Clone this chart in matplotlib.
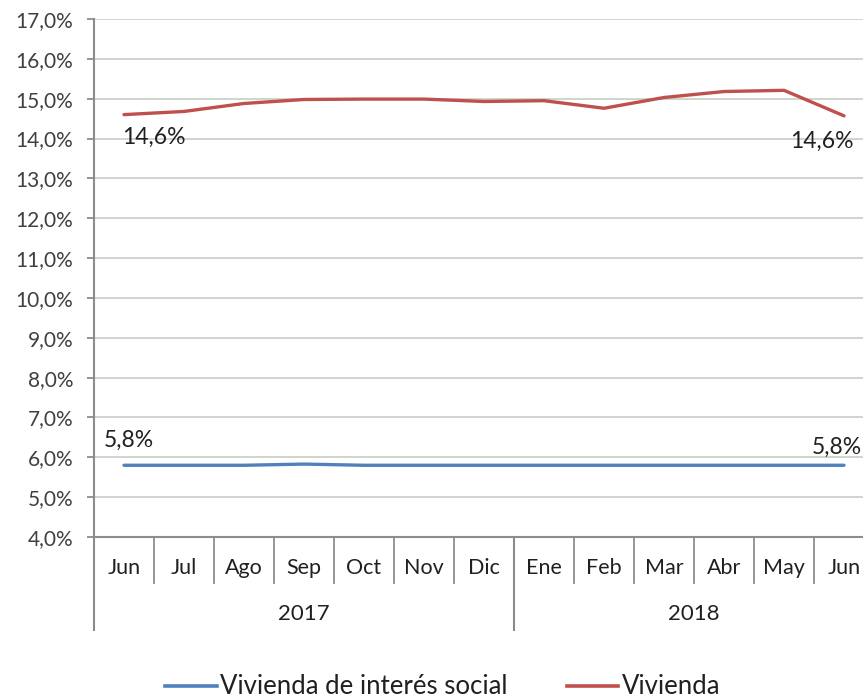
import matplotlib
matplotlib.use("Agg")
import matplotlib.pyplot as plt
from matplotlib.lines import Line2D
from matplotlib.transforms import blended_transform_factory

plt.rcParams['font.family'] = ['Lato', 'DejaVu Sans']

months = ["Jun", "Jul", "Ago", "Sep", "Oct", "Nov", "Dic",
          "Ene", "Feb", "Mar", "Abr", "May", "Jun"]
years = ["2017", "2018"]
year_spans = [(0, 6), (7, 12)]
vis = [5.8, 5.8, 5.8, 5.83, 5.8, 5.8, 5.8, 5.8, 5.8, 5.8, 5.8, 5.8, 5.8]
viv = [14.6, 14.68, 14.88, 14.98, 14.99, 14.99, 14.93, 14.95, 14.76, 15.03, 15.18, 15.21, 14.57]
yticks = list(range(4, 18))

W, H = 863, 698
fig = plt.figure(figsize=(W / 100, H / 100), dpi=100)
ax = fig.add_axes([94 / W, (H - 537) / H, 780 / W, 518 / H])

x = list(range(len(months)))
blue = "#4F81BD"
red = "#C0504D"
ax.plot(x, vis, color=blue, lw=2.4, solid_capstyle="round", zorder=3)
ax.plot(x, viv, color=red, lw=2.4, solid_capstyle="round", zorder=3)

ax.set_xlim(-0.5, 12.5)
ax.set_ylim(4, 17)
ax.set_yticks(yticks)
ax.set_yticklabels([f"{v},0%" for v in yticks], fontsize=15, color="#404040")
ax.yaxis.grid(True, color="#C9D2C9", lw=1.3)
ax.set_axisbelow(True)
for s in ["top", "right"]:
    ax.spines[s].set_visible(False)
for s in ["left", "bottom"]:
    ax.spines[s].set_color("#8C8C8C")
    ax.spines[s].set_linewidth(1.5)
ax.tick_params(axis="y", length=5, color="#8C8C8C", width=1.3, pad=10)
ax.set_xticks([])

# data labels
lab = dict(textcoords="offset points", va="center", fontsize=16.5, color="#202020")
ax.annotate("14,6%", (0, viv[0]), xytext=(-1.5, -16.5), ha="left", **lab)
ax.annotate("14,6%", (12, viv[-1]), xytext=(7.2, -18.7), ha="right", **lab)
ax.annotate("5,8%", (0, vis[0]), xytext=(-14.4, 18), ha="left", **lab)
ax.annotate("5,8%", (12, vis[-1]), xytext=(12.8, 13), ha="right", **lab)

# multi-level category axis
tr = blended_transform_factory(ax.transData, ax.transAxes)
ah = 518.0
month_y = -(568 - 537) / ah
sep_bot = -(583 - 537) / ah
year_bot = -(630 - 537) / ah
year_y = -(614 - 537) / ah
for i, m in enumerate(months):
    ax.text(i, month_y, m, transform=tr, ha="center", va="center",
            fontsize=15.5, color="#202020", clip_on=False)
for i in range(1, len(months)):
    if i == 7:
        continue
    ax.add_line(Line2D([i - 0.5, i - 0.5], [0, sep_bot], transform=tr,
                       color="#8C8C8C", lw=1.3, clip_on=False))
for (a, b), yl in zip(year_spans, years):
    ax.text((a + b) / 2, year_y, yl, transform=tr, ha="center", va="center",
            fontsize=16, color="#202020", clip_on=False)
for xb in [-0.5, 6.5]:
    ax.add_line(Line2D([xb, xb], [0, year_bot], transform=tr,
                       color="#8C8C8C", lw=1.5, clip_on=False))

handles = [Line2D([], [], color=blue, lw=2.6), Line2D([], [], color=red, lw=2.6)]
fig.legend(handles, ["Vivienda de interés social", "Vivienda"],
           loc="center", bbox_to_anchor=(443 / W, (H - 687) / H), ncol=2,
           frameon=False, fontsize=18.5, handlelength=2.0, handletextpad=0.15,
           columnspacing=2.3, labelcolor="#202020", borderpad=0, borderaxespad=0)

fig.savefig("out.png", dpi=100)
